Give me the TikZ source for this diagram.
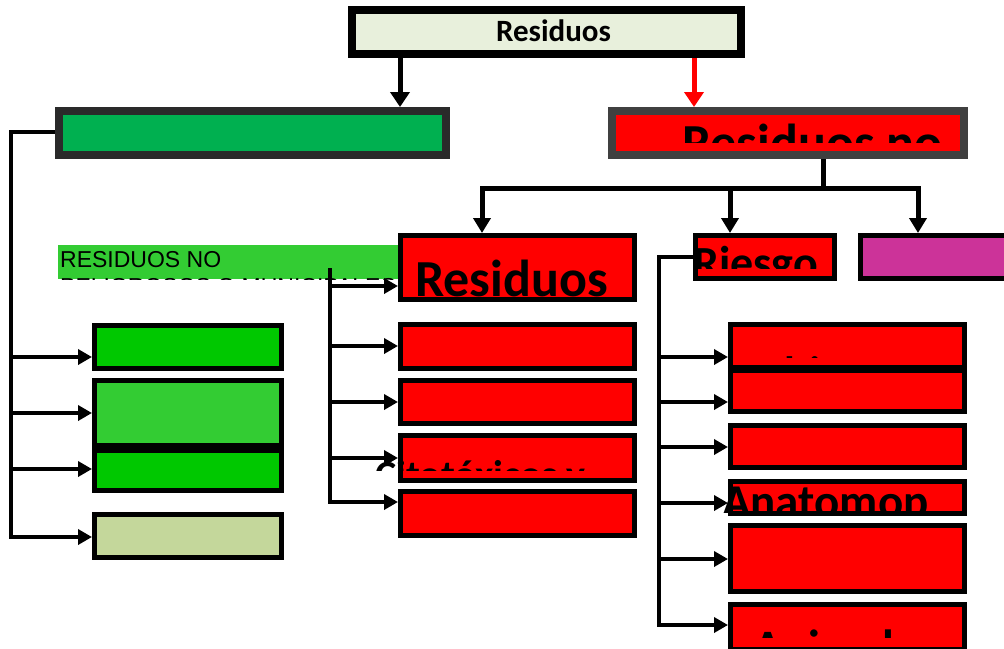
\documentclass[tikz,border=0pt]{standalone}
\usepackage{fontspec}
\setmainfont{Carlito}
\newfontfamily\arialfont{Liberation Sans}
\usetikzlibrary{arrows.meta}
\newcommand\pxfont[1]{\fontsize{#1}{#1}\selectfont}
\definecolor{paleg}{RGB}{232,240,220}
\definecolor{darkg}{RGB}{0,176,80}
\definecolor{brightg}{RGB}{0,200,0}
\definecolor{lightg}{RGB}{51,204,51}
\definecolor{oliveg}{RGB}{196,215,155}
\definecolor{magen}{RGB}{204,51,153}
\definecolor{edgeA}{RGB}{42,42,42}
\definecolor{edgeB}{RGB}{64,64,64}
\tikzset{
  boxthick/.style={draw=black, line width=8pt, inner sep=0pt},
  boxthin/.style={draw=black, line width=5pt, inner sep=0pt},
  redbox/.style={boxthin, fill=red, minimum width=234pt},
  bigarr/.style={line width=5pt, -{Triangle[width=19pt,length=15pt]}},
  midarr/.style={line width=5pt, line join=miter, -{Triangle[width=17pt,length=15pt]}},
  smallarr/.style={line width=3.5pt, line join=miter, -{Triangle[width=15pt,length=14pt]}},
  bigtxt/.style={font=\bfseries\pxfont{#1}, inner sep=0pt, anchor=base west},
}
\begin{document}
\begin{tikzpicture}[x=1pt,y=-1pt]
\useasboundingbox (0,0) rectangle (1004,648);

% green label behind the middle column
\node[fill=lightg, inner sep=0pt, minimum width=342pt, minimum height=34pt] (lab) at (229,262) {};

% top level
\node[boxthick, fill=paleg, minimum width=389pt, minimum height=44pt] (top) at (546.5,32) {};
\node[boxthick, draw=edgeA, fill=darkg, minimum width=387pt, minimum height=44pt] (gtop) at (252.5,133) {};
\node[boxthick, draw=edgeB, fill=red, minimum width=352pt, minimum height=44pt] (rtop) at (788,133) {};

% middle column
\node[redbox, minimum height=64pt] (m0) at (517.5,267.5) {};
\node[redbox, minimum height=44pt] (m1) at (517.5,346.5) {};
\node[redbox, minimum height=43pt] (m2) at (517.5,402) {};
\node[redbox, minimum height=45pt] (m3) at (517.5,458) {};
\node[redbox, minimum height=44pt] (m4) at (517.5,513.5) {};

% left column
\node[boxthin, fill=brightg, minimum width=187pt, minimum height=43pt] (l1) at (188,347) {};
\node[boxthin, fill=lightg, minimum width=187pt, minimum height=65pt] (l2) at (188,413) {};
\node[boxthin, fill=brightg, minimum width=187pt, minimum height=40pt] (l3) at (188,470.5) {};
\node[boxthin, fill=oliveg, minimum width=187pt, minimum height=43pt] (l4) at (188,536) {};

% right column
\node[boxthin, fill=red, minimum width=139pt, minimum height=43pt] (rsk) at (765,257) {};
\node[boxthin, fill=magen, minimum width=149pt, minimum height=43pt] (mag) at (935,257) {};
\node[redbox, minimum height=43pt] (r1) at (847.5,346) {};
\node[redbox, minimum height=41pt] (r2) at (847.5,391) {};
\node[redbox, minimum height=42pt] (r3) at (847.5,446.5) {};
\node[redbox, minimum height=32pt] (r4) at (847.5,497.5) {};
\node[redbox, minimum height=66pt] (r5) at (847.5,558.5) {};
\node[redbox, minimum height=45pt] (r6) at (847.5,627) {};

% connectors from the root
\draw[bigarr] (top.south -| 400,0) -- (gtop.north -| 400,0);
\draw[bigarr, red] (top.south -| 694,0) -- (rtop.north -| 694,0);

% branches of the red box
\draw[midarr] (rtop.south -| 823,0) -- (823,188) -| (m0.north -| 482,0);
\draw[midarr] (823,188) -| (rsk.north -| 730,0);
\draw[midarr] (823,188) -| (mag.north -| 918,0);

% left tree
\draw[smallarr] (gtop.west |- 0,132) -| (11,537) -- (l4.west |- 0,537);
\draw[smallarr] (11,357) -- (l1.west |- 0,357);
\draw[smallarr] (11,413) -- (l2.west |- 0,413);
\draw[smallarr] (11,469) -- (l3.west |- 0,469);

% middle tree
\coordinate (mroot) at (330,268);
\draw[smallarr] (mroot) -- (330,502) -- (m4.west |- 0,502);
\draw[smallarr] (330,286) -- (m0.west |- 0,286);
\draw[smallarr] (330,346) -- (m1.west |- 0,346);
\draw[smallarr] (330,402) -- (m2.west |- 0,402);
\draw[smallarr] (330,458) -- (m3.west |- 0,458);

% right tree
\draw[smallarr] (rsk.west |- 0,257) -| (659,625) -- (r6.west |- 0,625);
\draw[smallarr] (659,357) -- (r1.west |- 0,357);
\draw[smallarr] (659,402) -- (r2.west |- 0,402);
\draw[smallarr] (659,447) -- (r3.west |- 0,447);
\draw[smallarr] (659,503) -- (r4.west |- 0,503);
\draw[smallarr] (659,559) -- (r5.west |- 0,559);

% texts
\node[font=\bfseries\pxfont{31}, inner sep=0pt, anchor=base] (ttop) at (553.5,41) {Residuos};
\node[font=\arialfont\pxfont{23}, inner sep=0pt, anchor=base west] (tlab) at (60,267) {RESIDUOS NO};
\begin{scope}
  \clip (58,270) rectangle (400,279);
  \node[font=\arialfont\pxfont{23}, inner sep=0pt, anchor=base west] (tlab2) at (60,294.8) {PELIGROSOS O MUNICIPALES};
\end{scope}
\begin{scope}
  \clip (612,115) rectangle (964,142);
  \node[bigtxt=52] (trtop) at (682,160) {Residuos no};
\end{scope}
\node[bigtxt=52] (tm0) at (415,296) {Residuos};
\begin{scope}
  \clip (360,440) rectangle (640,470);
  \node[bigtxt=40] (tm3) at (375,488) {Citotóxicos y};
\end{scope}
\begin{scope}
  \clip (690,238) rectangle (835,268);
  \node[bigtxt=46] (trsk) at (693,278) {Riesgo};
\end{scope}
\begin{scope}
  \clip (731,340) rectangle (964,357);
  \node[bigtxt=44] (tr1) at (737,387.5) {Cultivos y cepas};
\end{scope}
\begin{scope}
  \clip (700,480) rectangle (964,512);
  \node[bigtxt=47] (tr4) at (722,517) {Anatomop};
\end{scope}
\begin{scope}
  \clip (731,610) rectangle (964,637);
  \node[bigtxt=48] (tr6) at (753,663) {Animales};
\end{scope}
\end{tikzpicture}
\end{document}
